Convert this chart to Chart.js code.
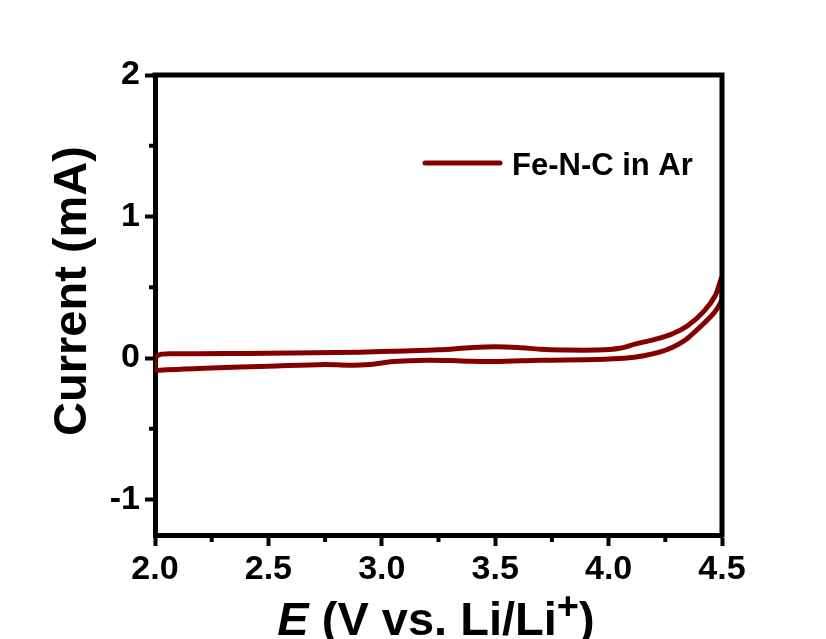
<!DOCTYPE html>
<html>
<head>
<meta charset="utf-8">
<script src="https://cdn.jsdelivr.net/npm/chart.js@4"></script>
<style>
  html, body { margin: 0; padding: 0; background: #fff; }
  canvas { display: block; }
</style>
</head>
<body>
<canvas id="chart" width="826" height="639"></canvas>
<script>
// CV loop: forward sweep (upper branch) then reverse sweep (lower branch)
const potential = [
  2.00, 2.03, 2.10, 2.30, 2.50, 2.70, 2.90, 3.10, 3.25, 3.40, 3.50, 3.60, 3.70, 3.80, 3.95,
  4.05, 4.12, 4.20, 4.28, 4.35, 4.42, 4.47, 4.50,
  4.50, 4.47, 4.43, 4.39, 4.34, 4.28, 4.22, 4.15, 4.08, 3.95, 3.70, 3.50, 3.35, 3.20, 3.05,
  2.95, 2.85, 2.75, 2.50, 2.25, 2.05, 2.00, 2.00
];
const current = [
  0.010, 0.028, 0.030, 0.032, 0.034, 0.038, 0.042, 0.050, 0.058, 0.075, 0.080, 0.075, 0.062, 0.057, 0.057,
  0.070, 0.100, 0.130, 0.170, 0.230, 0.330, 0.440, 0.570,
  0.420, 0.330, 0.260, 0.200, 0.130, 0.075, 0.040, 0.015, 0.000, -0.010, -0.015, -0.025, -0.020, -0.015, -0.025,
  -0.045, -0.050, -0.045, -0.058, -0.070, -0.082, -0.080, 0.010
];
const xTicks = [2.0, 2.5, 3.0, 3.5, 4.0, 4.5];
const yTicks = [-1, 0, 1, 2];
const xMinor = [2.25, 2.75, 3.25, 3.75, 4.25];
const yMinor = [-0.5, 0.5, 1.5];
const seriesLabel = "Fe-N-C in Ar";
const yTitle = "Current (mA)";

const lineColor = "#840000";
const fontFamily = "'Liberation Sans', Arial, sans-serif";

const extras = {
  id: "extras",
  afterDraw(chart) {
    const ctx = chart.ctx;
    const a = chart.chartArea;
    const xs = chart.scales.x, ys = chart.scales.y;
    ctx.save();
    // top and right frame
    ctx.strokeStyle = "#000";
    ctx.lineWidth = 5;
    ctx.lineCap = "square";
    ctx.beginPath();
    ctx.moveTo(a.left, a.top);
    ctx.lineTo(a.right, a.top);
    ctx.lineTo(a.right, a.bottom);
    ctx.stroke();
    // minor ticks
    ctx.lineWidth = 4;
    ctx.lineCap = "butt";
    ctx.beginPath();
    xMinor.forEach(v => {
      const px = xs.getPixelForValue(v);
      ctx.moveTo(px, a.bottom);
      ctx.lineTo(px, a.bottom + 7);
    });
    yMinor.forEach(v => {
      const py = ys.getPixelForValue(v);
      ctx.moveTo(a.left, py);
      ctx.lineTo(a.left - 6, py);
    });
    ctx.stroke();

    // legend
    ctx.strokeStyle = lineColor;
    ctx.lineWidth = 5;
    ctx.lineCap = "round";
    ctx.beginPath();
    ctx.moveTo(425, 163);
    ctx.lineTo(500, 163);
    ctx.stroke();
    ctx.fillStyle = "#000";
    ctx.font = "bold 31px " + fontFamily;
    ctx.textBaseline = "alphabetic";
    ctx.textAlign = "left";
    ctx.fillText(seriesLabel, 512, 175);

    // y title
    ctx.save();
    ctx.translate(86, 291);
    ctx.rotate(-Math.PI / 2);
    ctx.font = "bold 47px " + fontFamily;
    ctx.textAlign = "center";
    ctx.fillText(yTitle, 0, 0);
    ctx.restore();

    // x title: E (V vs. Li/Li+)
    const parts = [
      { t: "E", f: "italic bold 47px " + fontFamily, dy: 0 },
      { t: " (V vs. Li/Li", f: "bold 47px " + fontFamily, dy: 0 },
      { t: "+", f: "bold 38px " + fontFamily, dy: -16 },
      { t: ")", f: "bold 47px " + fontFamily, dy: 0 }
    ];
    let total = 0;
    parts.forEach(p => { ctx.font = p.f; p.w = ctx.measureText(p.t).width; total += p.w; });
    let x = 436 - total / 2;
    const base = 635;
    parts.forEach(p => {
      ctx.font = p.f;
      ctx.fillText(p.t, x, base + p.dy);
      x += p.w;
    });
    ctx.restore();
  }
};

new Chart(document.getElementById("chart"), {
  type: "scatter",
  data: {
    datasets: [{
      label: seriesLabel,
      data: potential.map((v, i) => ({ x: v, y: current[i] })),
      showLine: true,
      borderColor: lineColor,
      backgroundColor: lineColor,
      borderWidth: 5,
      pointRadius: 0,
      tension: 0.3,
      borderCapStyle: "round",
      borderJoinStyle: "round"
    }]
  },
  options: {
    responsive: false,
    animation: false,
    layout: { padding: { top: 75, right: 104, left: 0, bottom: 0 } },
    plugins: { legend: { display: false }, tooltip: { enabled: false } },
    scales: {
      x: {
        type: "linear",
        min: 2.0,
        max: 4.5,
        afterBuildTicks: s => { s.ticks = xTicks.map(v => ({ value: v })); },
        afterFit: s => { s.height = 104; },
        border: { display: true, color: "#000", width: 5 },
        grid: { drawOnChartArea: false, drawTicks: true, tickLength: 11, tickWidth: 4, tickColor: "#000" },
        ticks: {
          color: "#000",
          padding: 3,
          font: { family: fontFamily, size: 34, weight: "bold" },
          callback: v => Number(v).toFixed(1)
        },
        title: { display: false }
      },
      y: {
        type: "linear",
        min: -1.25,
        max: 2,
        afterBuildTicks: s => { s.ticks = yTicks.map(v => ({ value: v })); },
        afterFit: s => { s.width = 155; },
        border: { display: true, color: "#000", width: 5 },
        grid: { drawOnChartArea: false, drawTicks: true, tickLength: 10, tickWidth: 4, tickColor: "#000" },
        ticks: {
          color: "#000",
          padding: 5,
          font: { family: fontFamily, size: 34, weight: "bold" },
          callback: v => String(v)
        },
        title: { display: false }
      }
    }
  },
  plugins: [extras]
});
</script>
</body>
</html>
